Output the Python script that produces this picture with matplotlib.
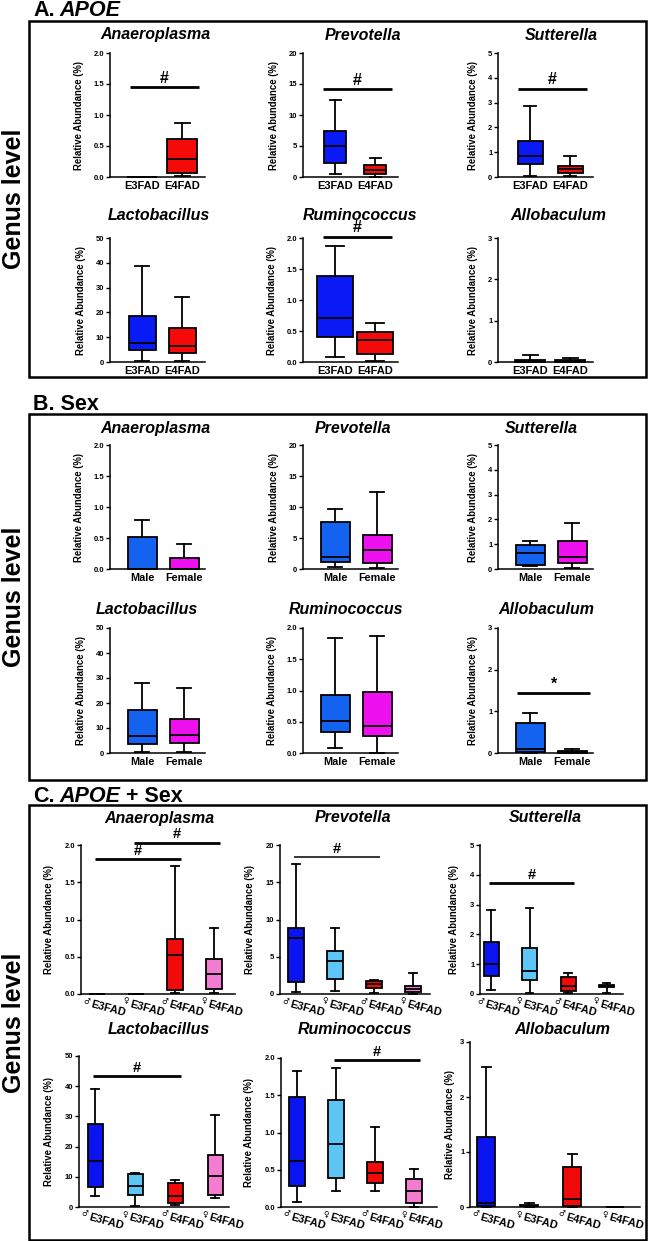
import matplotlib.pyplot as plt
from matplotlib.patches import Rectangle

plt.rcParams['font.family'] = ['Liberation Sans', 'DejaVu Sans']
plt.rcParams['mathtext.fontset'] = 'dejavusans'

W, H = 648, 1241

# y-axis settings per genus
genera = ['Anaeroplasma', 'Prevotella', 'Sutterella', 'Lactobacillus', 'Ruminococcus', 'Allobaculum']
y_max = [2.0, 20, 5, 50, 2.0, 3]
y_ticks = [[0, 0.5, 1.0, 1.5, 2.0], [0, 5, 10, 15, 20], [0, 1, 2, 3, 4, 5],
           [0, 10, 20, 30, 40, 50], [0, 0.5, 1.0, 1.5, 2.0], [0, 1, 2, 3]]

# five-number summaries per group: min, q1, median, q3, max  (% relative abundance)
apoe_groups = ['E3FAD', 'E4FAD']
apoe_anaeroplasma = [[0, 0, 0, 0, 0], [0.01, 0.07, 0.29, 0.62, 0.87]]
apoe_prevotella = [[0.5, 2.27, 4.97, 7.35, 12.5], [0.05, 0.48, 1.06, 1.96, 3.07]]
apoe_sutterella = [[0.05, 0.51, 0.86, 1.46, 2.86], [0.03, 0.17, 0.32, 0.44, 0.83]]
apoe_lactobacillus = [[0.3, 4.9, 7.6, 18.6, 38.8], [0.4, 3.6, 6.3, 13.6, 26.2]]
apoe_ruminococcus = [[0.08, 0.40, 0.71, 1.39, 1.87], [0.01, 0.13, 0.36, 0.49, 0.63]]
apoe_allobaculum = [[0, 0.01, 0.03, 0.06, 0.16], [0, 0.01, 0.03, 0.06, 0.09]]

sex_groups = ['Male', 'Female']
sex_anaeroplasma = [[0, 0, 0, 0.51, 0.79], [0, 0, 0, 0.17, 0.41]]
sex_prevotella = [[0.27, 1.2, 2.0, 7.6, 9.6], [0.1, 0.9, 3.0, 5.5, 12.5]]
sex_sutterella = [[0.12, 0.16, 0.65, 0.97, 1.12], [0.05, 0.24, 0.48, 1.14, 1.87]]
sex_lactobacillus = [[0.3, 3.5, 6.8, 17.2, 28.2], [0.3, 4.0, 7.4, 13.8, 26.2]]
sex_ruminococcus = [[0.075, 0.34, 0.51, 0.93, 1.84], [0.0, 0.28, 0.43, 0.98, 1.87]]
sex_allobaculum = [[0, 0.02, 0.09, 0.71, 0.95], [0, 0.01, 0.02, 0.04, 0.09]]

combo_sex = ['\u2642', '\u2640', '\u2642', '\u2640']
combo_genotypes = ['E3FAD', 'E3FAD', 'E4FAD', 'E4FAD']
combo_anaeroplasma = [[0, 0, 0, 0, 0], [0, 0, 0, 0, 0],
                      [0.01, 0.06, 0.52, 0.74, 1.72], [0.01, 0.07, 0.27, 0.47, 0.88]]
combo_prevotella = [[0.3, 1.57, 7.55, 8.8, 17.5], [0.45, 2.0, 4.4, 5.75, 8.8],
                    [0.2, 0.76, 1.35, 1.75, 1.9], [0.05, 0.31, 0.72, 1.08, 2.8]]
combo_sutterella = [[0.13, 0.61, 0.99, 1.74, 2.83], [0.02, 0.46, 0.78, 1.55, 2.9],
                    [0.03, 0.1, 0.27, 0.57, 0.72], [0.03, 0.24, 0.26, 0.31, 0.36]]
combo_lactobacillus = [[3.6, 6.7, 15.1, 27.6, 39.0], [0.2, 4.1, 7.0, 11.0, 11.4],
                       [0.6, 1.3, 3.8, 7.8, 9.1], [3.0, 3.9, 10.4, 17.3, 30.4]]
combo_ruminococcus = [[0.07, 0.28, 0.62, 1.47, 1.83], [0.22, 0.39, 0.84, 1.43, 1.87],
                      [0.22, 0.32, 0.46, 0.61, 1.08], [0.0, 0.05, 0.21, 0.37, 0.51]]
combo_allobaculum = [[0, 0.02, 0.07, 1.27, 2.55], [0, 0.01, 0.02, 0.04, 0.08],
                     [0, 0.02, 0.15, 0.72, 0.96], [0, 0, 0, 0, 0.005]]

# significance bars: (genus index, from group, to group, height, mark)
apoe_sig = [(0, 1, 2, 1.45, '#'), (1, 1, 2, 14.2, '#'), (2, 1, 2, 3.56, '#'), (4, 1, 2, 2.02, '#')]
sex_sig = [(5, 1, 2, 1.44, '*')]
combo_sig = [(0, 1, 3, 1.81, '#'), (0, 2, 4, 2.03, '#'), (1, 1, 3, 18.4, '#'),
             (2, 1, 3, 3.72, '#'), (3, 1, 3, 43.3, '#'), (4, 2, 4, 1.97, '#')]

apoe_colors = ['#0a1af5', '#f50a0a']
sex_colors = ['#1462f0', '#ee10ee']
combo_colors = ['#0a14f0', '#5ec6f7', '#f00a0a', '#f27ccf']

fig = plt.figure(figsize=(W / 100, H / 100), dpi=100)


def px_axes(left, top, right, bottom):
    return fig.add_axes([left / W, 1 - bottom / H, (right - left) / W, (bottom - top) / H])


def fig_text(x, y, s, **kw):
    return fig.text(x / W, 1 - y / H, s, **kw)


def box_panel(ax, gi, summary, colors, start_px, step_px, box_px, axis_px, labelpad=7):
    n = len(summary)
    x0 = 1 - start_px / step_px
    ax.set_xlim(x0, x0 + axis_px / step_px)
    stats = [dict(whislo=s[0], q1=s[1], med=s[2], q3=s[3], whishi=s[4], fliers=[]) for s in summary]
    lw = 1.3
    art = ax.bxp(stats, positions=list(range(1, n + 1)), widths=box_px / step_px,
                 patch_artist=True, showfliers=False,
                 boxprops=dict(edgecolor='black', linewidth=lw),
                 medianprops=dict(color='black', linewidth=lw),
                 whiskerprops=dict(color='black', linewidth=lw),
                 capprops=dict(color='black', linewidth=lw))
    for patch, c in zip(art['boxes'], colors):
        patch.set_facecolor(c)
    for key in art:
        for a in art[key]:
            a.set_clip_on(False)
    ax.set_ylim(0, y_max[gi])
    ax.set_yticks(y_ticks[gi])
    if gi in (0, 4):
        ax.set_yticklabels(['%.1f' % t for t in y_ticks[gi]])
    else:
        ax.set_yticklabels([str(t) for t in y_ticks[gi]])
    for side in ('top', 'right'):
        ax.spines[side].set_visible(False)
    for side in ('left', 'bottom'):
        ax.spines[side].set_linewidth(1.1)
    ax.tick_params(axis='y', length=3, width=1, labelsize=5.5, pad=1)
    ax.tick_params(axis='x', length=0, labelsize=8, pad=3)
    for lbl in ax.get_yticklabels():
        lbl.set_fontweight('bold')
    ax.set_ylabel('Relative Abundance (%)', fontsize=6.9, fontweight='bold', labelpad=labelpad)


def sig_bar(ax, a, b, h, mark, lw=2.0, left_ext=0.3, right_ext=0.43, size=11.5):
    ax.plot([a - left_ext, b + right_ext], [h, h], color='black', lw=lw, clip_on=False,
            solid_capstyle='butt')
    xa, xb = a - left_ext, b + right_ext
    ax.annotate(mark, ((xa + xb) / 2, h), xytext=(0, 1), textcoords='offset points',
                ha='center', va='bottom', fontsize=size, fontweight='bold',
                annotation_clip=False)


def heading(x, y, parts, size):
    renderer = fig.canvas.get_renderer()
    for s, style in parts:
        t = fig_text(x, y, s, fontsize=size, fontweight='bold', fontstyle=style,
                     va='center', ha='left')
        x += t.get_window_extent(renderer).width + 5


def frame(top, bottom):
    fig.patches.append(Rectangle((29 / W, 1 - bottom / H), (646 - 29) / W, (bottom - top) / H,
                                 transform=fig.transFigure, fill=False, lw=1.8,
                                 edgecolor='black'))
    fig_text(14, (top + bottom) / 2, 'Genus level', rotation=90, fontsize=18,
             fontweight='bold', ha='center', va='center')


def title(x, y, s):
    fig_text(x, y, s, fontsize=11.5, fontweight='bold', fontstyle='italic',
             ha='center', va='center')


# ---------------- Panel A: APOE ----------------
heading(33, 11, [('A.', 'normal'), ('APOE', 'italic')], 15.5)
frame(21, 377)
apoe_data = [apoe_anaeroplasma, apoe_prevotella, apoe_sutterella,
             apoe_lactobacillus, apoe_ruminococcus, apoe_allobaculum]
a_rects = [(110, 53, 205, 177), (303, 53, 398, 177), (498, 53, 593, 177),
           (110, 238, 205, 362), (303, 238, 398, 362), (498, 238, 593, 362)]
a_box = [30, 22, 25, 27, 36, 30]
a_titles = [(155, 35), (363, 35), (561, 35), (159, 215), (360, 215), (558, 215)]
a_axes = []
for gi in range(6):
    l, t, r, b = a_rects[gi]
    ax = px_axes(l, t, r, b)
    box_panel(ax, gi, apoe_data[gi], apoe_colors, 32, 40, a_box[gi], r - l)
    ax.set_xticks([1, 2])
    ax.set_xticklabels(apoe_groups, fontweight='bold')
    title(*a_titles[gi], genera[gi])
    a_axes.append(ax)
for gi, a, b, h, m in apoe_sig:
    sig_bar(a_axes[gi], a, b, h, m)

# ---------------- Panel B: Sex ----------------
heading(33, 405, [('B. Sex', 'normal')], 15.5)
frame(414, 780)
sex_data = [sex_anaeroplasma, sex_prevotella, sex_sutterella,
            sex_lactobacillus, sex_ruminococcus, sex_allobaculum]
b_rects = [(110, 445, 205, 569), (303, 445, 398, 569), (498, 445, 593, 569),
           (110, 628, 205, 753), (303, 628, 398, 753), (498, 628, 593, 753)]
b_titles = [(155, 428), (353, 428), (541, 428), (147, 610), (346, 610), (546, 610)]
b_axes = []
for gi in range(6):
    l, t, r, b = b_rects[gi]
    ax = px_axes(l, t, r, b)
    box_panel(ax, gi, sex_data[gi], sex_colors, 32, 42, 29, r - l)
    ax.set_xticks([1, 2])
    ax.set_xticklabels(sex_groups, fontweight='bold', fontsize=7.8)
    title(*b_titles[gi], genera[gi])
    b_axes.append(ax)
for gi, a, b, h, m in sex_sig:
    sig_bar(b_axes[gi], a, b, h, m)

# ---------------- Panel C: APOE + Sex ----------------
heading(33, 797, [('C.', 'normal'), ('APOE', 'italic'), ('+ Sex', 'normal')], 15.5)
frame(805, 1240)
combo_data = [combo_anaeroplasma, combo_prevotella, combo_sutterella,
              combo_lactobacillus, combo_ruminococcus, combo_allobaculum]
c_rects = [(81, 845, 235, 994), (280, 845, 430, 994), (480, 845, 623, 994),
           (79, 1056, 229, 1207), (281, 1058, 437, 1207), (470, 1042, 640, 1207)]
c_layout = [(16, 39, 16), (16, 39, 16), (11, 38.5, 15), (16, 40, 15), (16, 39, 16), (16, 43, 18)]
c_titles = [(159, 818), (353, 818), (545, 818), (159, 1030), (355, 1030), (562, 1030)]
c_axes = []
for gi in range(6):
    l, t, r, b = c_rects[gi]
    ax = px_axes(l, t, r, b)
    start, step, bw = c_layout[gi]
    box_panel(ax, gi, combo_data[gi], combo_colors, start, step, bw, r - l,
              labelpad=4 if gi == 5 else 8)
    ax.set_xticks([1, 2, 3, 4])
    ax.set_xticklabels([])
    for k in range(4):
        ax.annotate(combo_sex[k], (k + 1, 0), xycoords=('data', 'axes fraction'),
                    xytext=(-10 * 0.72, -2.5 * 0.72), textcoords='offset points',
                    ha='center', va='top', fontsize=5.5, fontweight='bold',
                    family='DejaVu Sans', annotation_clip=False)
        ax.annotate(combo_genotypes[k], (k + 1, 0), xycoords=('data', 'axes fraction'),
                    xytext=(-5 * 0.72, -5 * 0.72), textcoords='offset points',
                    ha='left', va='top', fontsize=7.9, fontweight='bold',
                    rotation=-15, rotation_mode='anchor', annotation_clip=False)
    title(*c_titles[gi], genera[gi])
    c_axes.append(ax)
for gi, a, b, h, m in combo_sig:
    sig_bar(c_axes[gi], a, b, h, m, lw=1.1 if gi == 1 else 2.0, left_ext=0.05,
            right_ext=0.15, size=10.5)

fig.savefig('out.png', dpi=100)
